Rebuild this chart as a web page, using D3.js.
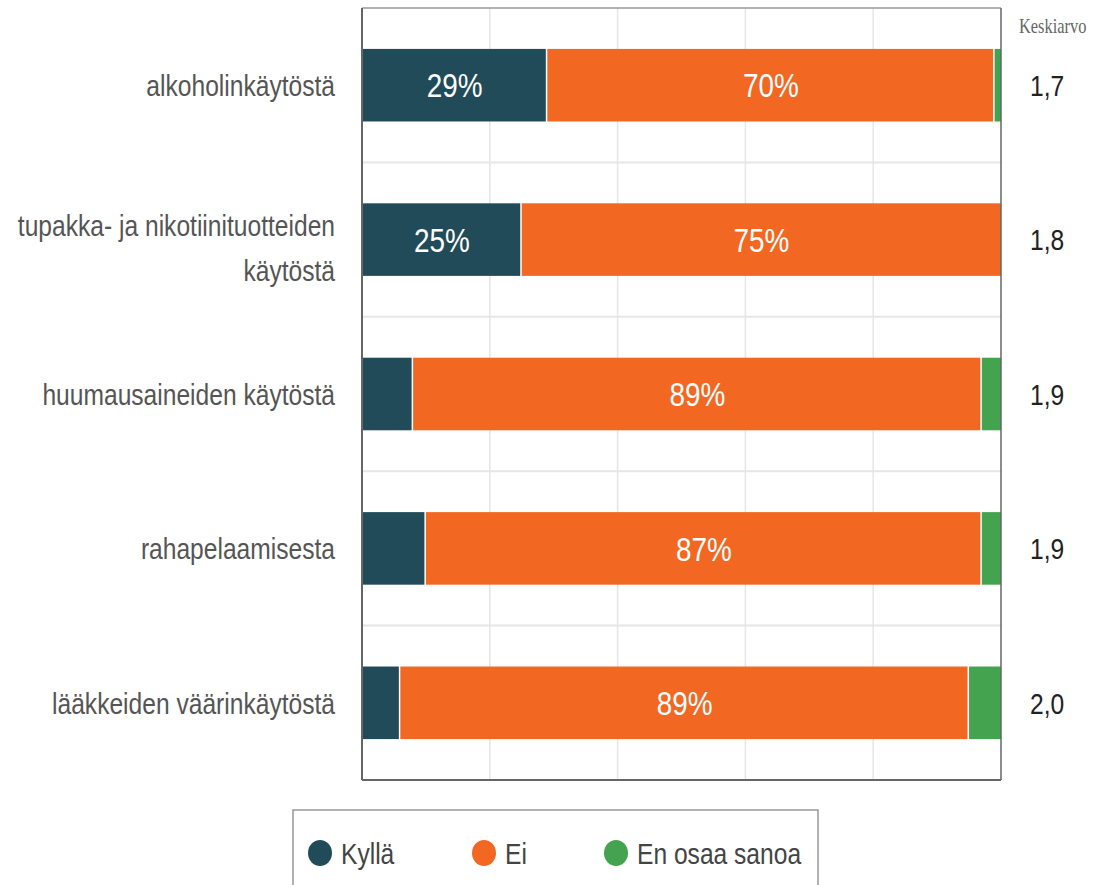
<!DOCTYPE html>
<html>
<head>
<meta charset="utf-8">
<script src="https://cdn.jsdelivr.net/npm/d3@7"></script>
<style>
  body { margin: 0; background: #fff; }
  svg text { font-family: "Liberation Sans", Arial, sans-serif; }
</style>
</head>
<body>
<svg id="chart" width="1094" height="885"></svg>
<script>
// categories and series (percent)
var categories = ["alkoholinkäytöstä", "tupakka- ja nikotiinituotteiden käytöstä", "huumausaineiden käytöstä", "rahapelaamisesta", "lääkkeiden väärinkäytöstä"];
var kylla = [29, 25, 8, 10, 6];
var ei = [70, 75, 89, 87, 89];
var eos = [1, 0, 3, 3, 5];
var means = ["1,7", "1,8", "1,9", "1,9", "2,0"];
var seriesNames = ["Kyllä", "Ei", "En osaa sanoa"];
var colors = ["#224b5a", "#f26722", "#43a34f"];
var xTicks = [0, 20, 40, 60, 80, 100];

var svg = d3.select("#chart");

//plot area
var pLeft = 362, pRight = 1001, pTop = 8, pBottom = 780;
var squeeze = 0.82; // text in the picture is narrow

var x = d3.scaleLinear().domain([0, 100]).range([pLeft, pRight]);
var y = d3.scaleBand().domain(categories).range([pTop, pBottom]).paddingInner(0.53).paddingOuter(0.265);

var rows = categories.map(function(c, i) {
  return { cat: c, vals: [kylla[i], ei[i], eos[i]], mean: means[i] };
});

function place(px, py) {
  return "translate(" + px + "," + py + ") scale(" + squeeze + ",1)";
}

//vertical gridlines
svg.append("g").selectAll("line")
  .data(xTicks.slice(1, -1))
  .join("line")
  .attr("x1", function(d) { return x(d); })
  .attr("x2", function(d) { return x(d); })
  .attr("y1", pTop).attr("y2", pBottom)
  .attr("stroke", "#e6e6e6").attr("stroke-width", 1.5);

//horizontal gridlines between bands
var step = y.step();
svg.append("g").selectAll("line")
  .data(categories.slice(1))
  .join("line")
  .attr("x1", pLeft).attr("x2", pRight)
  .attr("y1", function(d) { return y(d) - step * 0.265; })
  .attr("y2", function(d) { return y(d) - step * 0.265; })
  .attr("stroke", "#e6e6e6").attr("stroke-width", 2);

//stacked bars
var stacks = d3.stack().keys([0, 1, 2]).value(function(d, k) { return d.vals[k]; })(rows);

var groups = svg.append("g").selectAll("g")
  .data(stacks)
  .join("g")
  .attr("fill", function(d, i) { return colors[i]; });

groups.selectAll("rect")
  .data(function(d) { return d; })
  .join("rect")
  .attr("x", function(d) { return x(d[0]); })
  .attr("y", function(d) { return y(d.data.cat); })
  .attr("width", function(d) { return Math.max(0, x(d[1]) - x(d[0]) - (d[1] < 100 ? 1.5 : 0)); })
  .attr("height", y.bandwidth());

//percent labels for big segments
groups.selectAll("text")
  .data(function(d) { return d.filter(function(s) { return s[1] - s[0] >= 20; }); })
  .join("text")
  .attr("transform", function(d) { return place((x(d[0]) + x(d[1])) / 2, y(d.data.cat) + y.bandwidth() / 2); })
  .attr("dy", "0.36em")
  .attr("text-anchor", "middle")
  .attr("fill", "#fff")
  .style("font-size", "34px")
  .text(function(d) { return Math.round(d[1] - d[0]) + "%"; });

//frame
svg.append("line").attr("x1", pLeft).attr("x2", pRight).attr("y1", pTop).attr("y2", pTop)
  .attr("stroke", "#999").attr("stroke-width", 1.5);
svg.append("line").attr("x1", pLeft).attr("x2", pRight).attr("y1", pBottom).attr("y2", pBottom)
  .attr("stroke", "#666").attr("stroke-width", 2);
svg.append("line").attr("x1", pLeft).attr("x2", pLeft).attr("y1", pTop).attr("y2", pBottom)
  .attr("stroke", "#666").attr("stroke-width", 2);
svg.append("line").attr("x1", pRight).attr("x2", pRight).attr("y1", pTop).attr("y2", pBottom)
  .attr("stroke", "#666").attr("stroke-width", 1.5);

//category labels
var catG = svg.append("g").selectAll("g")
  .data(categories)
  .join("g");

catG.each(function(d) {
  var g = d3.select(this);
  var lines = d === "tupakka- ja nikotiinituotteiden käytöstä" ? ["tupakka- ja nikotiinituotteiden", "käytöstä"] : [d];
  var cy = y(d) + y.bandwidth() / 2;
  var offs = lines.length > 1 ? [-14, 31] : [0];
  lines.forEach(function(l, j) {
    g.append("text")
      .attr("transform", place(335, cy + offs[j]))
      .attr("dy", "0.36em")
      .attr("text-anchor", "end")
      .attr("fill", "#555")
      .style("font-size", "30px")
      .text(l);
  });
});

//means column
svg.append("text")
  .attr("transform", place(1019, 33))
  .attr("fill", "#666")
  .style("font-family", "'Liberation Serif', serif")
  .style("font-size", "20px")
  .text("Keskiarvo");

svg.append("g").selectAll("text")
  .data(rows)
  .join("text")
  .attr("transform", function(d) { return place(1030, y(d.cat) + y.bandwidth() / 2); })
  .attr("dy", "0.36em")
  .attr("fill", "#222")
  .style("font-size", "30px")
  .text(function(d) { return d.mean; });

//legend
var legend = svg.append("g");
legend.append("rect")
  .attr("x", 293).attr("y", 810).attr("width", 525).attr("height", 90)
  .attr("fill", "#fff").attr("stroke", "#999").attr("stroke-width", 1.5);

var legendX = [320, 484, 616];
var items = legend.selectAll("g")
  .data(seriesNames)
  .join("g")
  .attr("transform", function(d, i) { return "translate(" + legendX[i] + ",853)"; });

items.append("ellipse").attr("rx", 12).attr("ry", 13)
  .attr("fill", function(d, i) { return colors[i]; });
items.append("text")
  .attr("transform", place(21, 0))
  .attr("dy", "0.36em")
  .attr("fill", "#444")
  .style("font-size", "30px")
  .text(function(d) { return d; });
</script>
</body>
</html>
